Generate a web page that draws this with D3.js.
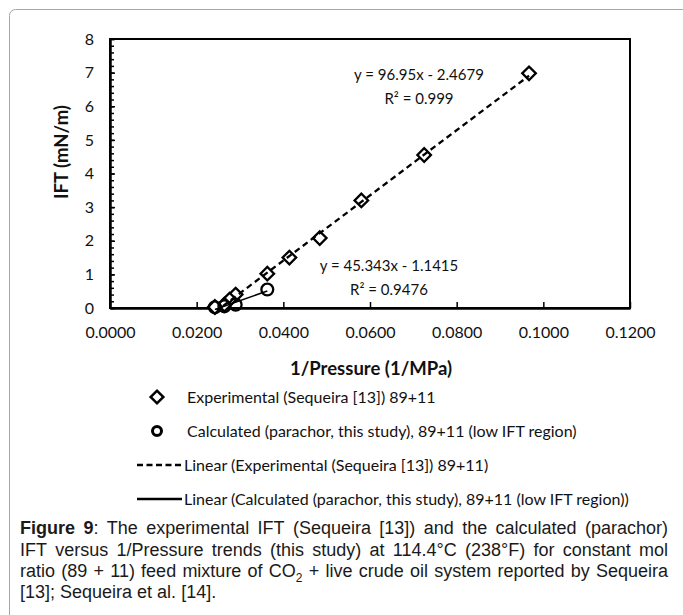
<!DOCTYPE html>
<html>
<head>
<meta charset="utf-8">
<script src="https://cdn.jsdelivr.net/npm/d3@7"></script>
<style>
  body { margin: 0; background: #fff; }
  svg { display: block; }
</style>
</head>
<body>
<div id="chart"></div>
<script>
// values
var xTicks = [0, 0.02, 0.04, 0.06, 0.08, 0.10, 0.12]
var yTicks = [0, 1, 2, 3, 4, 5, 6, 7, 8]

// experimental IFT (Sequeira [13]) 89+11
var expX = [0.0967, 0.0725, 0.0580, 0.0484, 0.0414, 0.0363, 0.0290, 0.0276, 0.0264, 0.0242]
var expY = [6.98, 4.55, 3.20, 2.08, 1.50, 1.02, 0.40, 0.25, 0.10, 0.03]

// calculated (parachor), low IFT region
var calcX = [0.0242, 0.0264, 0.0290, 0.0363]
var calcY = [0.02, 0.05, 0.10, 0.55]

// excel trendlines as printed on the chart
var expFit = [96.95, -2.4679]
var calcFit = [45.343, -1.1415]
var fitLabels = [["y = 96.95x - 2.4679", "R² = 0.999"], ["y = 45.343x - 1.1415", "R² = 0.9476"]]

var legendLabels = [
  "Experimental (Sequeira [13]) 89+11",
  "Calculated (parachor, this study), 89+11 (low IFT region)",
  "Linear (Experimental (Sequeira [13]) 89+11)",
  "Linear (Calculated (parachor, this study), 89+11 (low IFT region))"
]

var captionLines = [
  "*Figure* *9*: The experimental IFT (Sequeira [13]) and the calculated (parachor)",
  "IFT versus 1/Pressure trends (this study) at 114.4°C (238°F) for constant mol",
  "ratio (89 + 11) feed mixture of CO_2 + live crude oil system reported by Sequeira",
  "[13]; Sequeira et al. [14]."
]

var width = 683
var height = 615
var font = "Lato, 'Open Sans', sans-serif"

var svg = d3.select("#chart").append("svg")
  .attr("width", width)
  .attr("height", height)

// card border
svg.append("rect")
  .attr("x", 9.5).attr("y", 9.5)
  .attr("width", width + 20).attr("height", height + 20)
  .attr("rx", 6)
  .attr("fill", "none")
  .attr("stroke", "#a6a6a6")

var plot = {left: 110, top: 39, right: 630, bottom: 308}

var x = d3.scaleLinear().domain([0, 0.12]).range([plot.left, plot.right])
var y = d3.scaleLinear().domain([0, 8]).range([plot.bottom, plot.top])

svg.append("clipPath").attr("id", "clip")
  .append("rect")
  .attr("x", plot.left).attr("y", plot.top)
  .attr("width", plot.right - plot.left).attr("height", plot.bottom - plot.top + 2)

// plot frame
svg.append("rect")
  .attr("x", plot.left).attr("y", plot.top)
  .attr("width", plot.right - plot.left).attr("height", plot.bottom - plot.top)
  .attr("fill", "none")
  .attr("stroke", "#000")
  .attr("stroke-width", 2)

// y axis, minor then major ticks
svg.append("g")
  .attr("transform", "translate(" + plot.left + ",0)")
  .call(d3.axisLeft(y).tickValues(d3.range(0, 41).map(function(i) { return i * 0.2 }))
    .tickSize(-4).tickSizeOuter(0).tickFormat(""))
  .call(function(g) { g.select(".domain").remove() })
  .selectAll("line").attr("stroke-width", 1.5)

var yAxis = svg.append("g")
  .attr("transform", "translate(" + plot.left + ",0)")
  .call(d3.axisLeft(y).tickValues(yTicks).tickSize(-5).tickSizeOuter(0).tickPadding(16))
yAxis.select(".domain").attr("stroke-width", 2.5)
yAxis.selectAll("line").attr("stroke-width", 1.5)
yAxis.selectAll("text").attr("font-family", font).attr("font-size", 16).attr("fill", "#111")

var xAxis = svg.append("g")
  .attr("transform", "translate(0," + plot.bottom + ")")
  .call(d3.axisBottom(x).tickValues(xTicks).tickSize(-6).tickSizeOuter(0).tickPadding(19)
    .tickFormat(d3.format(".4f")))
xAxis.select(".domain").attr("stroke-width", 2.5)
xAxis.selectAll("line").attr("stroke-width", 1.5)
xAxis.selectAll("text").attr("font-family", font).attr("font-size", 16).attr("fill", "#111")

// axis titles
svg.append("text")
  .attr("x", (plot.left + plot.right) / 2 + 1)
  .attr("y", 375)
  .attr("text-anchor", "middle")
  .attr("font-family", font)
  .attr("font-weight", "bold")
  .attr("font-size", 18.5)
  .attr("fill", "#111")
  .text("1/Pressure (1/MPa)")

svg.append("text")
  .attr("transform", "translate(68,152) rotate(-90)")
  .attr("text-anchor", "middle")
  .attr("font-family", font)
  .attr("font-weight", "bold")
  .attr("font-size", 18.5)
  .attr("fill", "#111")
  .text("IFT (mN/m)")

var diamond = d3.symbol().type(d3.symbolSquare).size(92)
var circle = d3.symbol().type(d3.symbolCircle).size(110)

var expData = expX.map(function(d, i) { return {x: d, y: expY[i]} })
var calcData = calcX.map(function(d, i) { return {x: d, y: calcY[i]} })

svg.append("g").selectAll("path")
  .data(expData)
  .enter().append("path")
  .attr("d", diamond)
  .attr("transform", function(d) { return "translate(" + x(d.x) + "," + y(d.y) + ") rotate(45)" })
  .attr("fill", "#fff")
  .attr("stroke", "#000")
  .attr("stroke-width", 2.3)

svg.append("g").selectAll("path")
  .data(calcData)
  .enter().append("path")
  .attr("d", circle)
  .attr("transform", function(d) { return "translate(" + x(d.x) + "," + y(d.y) + ")" })
  .attr("fill", "none")
  .attr("stroke", "#000")
  .attr("stroke-width", 2.3)

// trendlines over the markers, like excel
function fitLine(xs, fit) {
  var ext = d3.extent(xs)
  return ext.map(function(v) { return {x: v, y: fit[0] * v + fit[1]} })
}
var line = d3.line().x(function(d) { return x(d.x) }).y(function(d) { return y(d.y) })

svg.append("path")
  .datum(fitLine(expX, expFit))
  .attr("d", line)
  .attr("clip-path", "url(#clip)")
  .attr("fill", "none")
  .attr("stroke", "#000")
  .attr("stroke-width", 2.3)
  .attr("stroke-dasharray", "6,4")

svg.append("path")
  .datum(fitLine(calcX, calcFit))
  .attr("d", line)
  .attr("clip-path", "url(#clip)")
  .attr("fill", "none")
  .attr("stroke", "#000")
  .attr("stroke-width", 1.6)

// equation labels
var fitPos = [[419, 80], [389, 271]]
fitLabels.forEach(function(lbl, i) {
  svg.append("text")
    .attr("x", fitPos[i][0]).attr("y", fitPos[i][1])
    .attr("text-anchor", "middle")
    .attr("font-family", font).attr("font-size", 15).attr("fill", "#111")
    .selectAll("tspan").data(lbl).enter().append("tspan")
    .attr("x", fitPos[i][0])
    .attr("dy", function(d, j) { return j ? 24 : 0 })
    .text(function(d) { return d })
})

// legend
var legendY = [397, 431, 465, 499]
var legend = svg.append("g")
legendLabels.forEach(function(lbl, i) {
  var ly = legendY[i]
  if (i == 0) {
    legend.append("path").attr("d", d3.symbol().type(d3.symbolSquare).size(80))
      .attr("transform", "translate(157," + ly + ") rotate(45)")
      .attr("fill", "#fff").attr("stroke", "#000").attr("stroke-width", 2.5)
  } else if (i == 1) {
    legend.append("circle").attr("cx", 157).attr("cy", ly).attr("r", 4.5)
      .attr("fill", "none").attr("stroke", "#000").attr("stroke-width", 3)
  } else {
    legend.append("line").attr("x1", 137).attr("x2", 182).attr("y1", ly).attr("y2", ly)
      .attr("stroke", "#000").attr("stroke-width", 2.3)
      .attr("stroke-dasharray", i == 2 ? "6,3.5" : null)
  }
  legend.append("text")
    .attr("x", i < 2 ? 187 : 184).attr("y", ly + 5.5)
    .attr("font-family", font).attr("font-size", 16).attr("fill", "#111")
    .text(lbl)
})

// caption, justified word by word
var capFont = "'Liberation Sans', Arial, sans-serif"
var capSize = 18
var capLeft = 20, capRight = 668
var capY = [534, 556, 577, 598]
var cap = svg.append("g").attr("font-family", capFont).attr("font-size", capSize).attr("fill", "#1a1a1a")

captionLines.forEach(function(str, li) {
  var words = str.split(" ")
  var nodes = words.map(function(w) {
    var t = cap.append("text").attr("y", capY[li])
    w.split(/(\*[^*]+\*|_\d)/).filter(function(s) { return s.length }).forEach(function(seg) {
      if (seg[0] == "*") {
        t.append("tspan").attr("font-weight", "bold").text(seg.slice(1, -1))
      } else if (seg[0] == "_") {
        t.append("tspan").attr("font-size", 12).attr("dy", 5).text(seg.slice(1))
      } else {
        t.append("tspan").text(seg)
      }
    })
    return t
  })
  var widths = nodes.map(function(t) { return t.node().getComputedTextLength() })
  var total = d3.sum(widths)
  var gap = li < captionLines.length - 1 ? (capRight - capLeft - total) / (words.length - 1) : capSize * 0.278
  var cx = capLeft
  nodes.forEach(function(t, i) {
    t.attr("x", cx)
    cx += widths[i] + gap
  })
})
</script>
</body>
</html>
